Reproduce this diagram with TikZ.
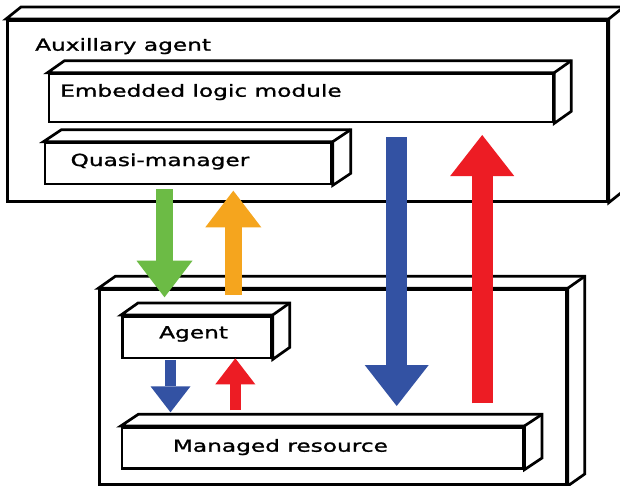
\documentclass[tikz,border=0pt]{standalone}
\usepackage{fontspec}
\setmainfont{DejaVu Sans}[FakeStretch=1.40, FakeBold=1.3]
\usetikzlibrary{arrows.meta,calc}

\definecolor{flowgreen}{RGB}{108,187,69}
\definecolor{floworange}{RGB}{245,165,30}
\definecolor{flowblue}{RGB}{51,82,163}
\definecolor{flowred}{RGB}{237,28,36}

\tikzset{
  boxline/.style={line width=2.7pt, line join=miter},
  front/.style={boxline, draw=black, fill=white, rectangle, inner sep=0pt, anchor=north west},
  lbl/.style={anchor=base west, inner sep=0pt, font=\fontsize{16.6}{19}\selectfont},
  bigflow/.style={line width=21pt, -{Triangle[width=64pt,length=41pt,line width=0pt]}},
  midflow/.style={line width=17.5pt, -{Triangle[width=56pt,length=36.6pt,line width=0pt]}},
  smallflow/.style={line width=11pt, -{Triangle[width=40pt,length=26pt,line width=0pt]}},
}

% front face of a box plus its top and right faces, offset by (dx,dy)
\newcommand{\solidbox}[6]{%
  \node[front, minimum width=#4pt, minimum height=#5pt] (#1) at (#2,#3) {};
  \draw[boxline, fill=white] (#1.north west) -- ++(#6) -- ($(#1.north east)+(#6)$)
    -- ($(#1.south east)+(#6)$) -- (#1.south east) -- (#1.north east) -- cycle;
  \draw[boxline] (#1.north east) -- ++(#6);
}

\begin{document}
\begin{tikzpicture}[x=1pt,y=-1pt]
\useasboundingbox (0,0) rectangle (620,485);

% auxiliary agent and its modules
\solidbox{aux}{6}{19}{600}{181}{15,-12}
\node[lbl] (auxlbl) at (35,50.7) {Auxillary agent};
\solidbox{elm}{47.5}{72.7}{504}{48}{17,-12}
\node[lbl] (elmlbl) at (60,96.7) {Embedded logic module};
\solidbox{qm}{43.5}{141.7}{286.5}{41}{18,-12}
\node[lbl] (qmlbl) at (70.4,166) {Quasi-manager};

% managed system
\solidbox{sys}{98.3}{288.3}{466.7}{195}{17,-12}
\solidbox{ag}{121}{315}{149}{41.7}{17,-12}
\node[lbl] (aglbl) at (159,338.3) {Agent};
\solidbox{mr}{120.7}{426}{401}{41}{17.6,-11.7}
\node[lbl] (mrlbl) at (172.7,451.7) {Managed resource};

% arrow end points
\coordinate (g1) at (164.5,189.3);  \coordinate (g2) at (164.5,297.3);
\coordinate (o1) at (233.3,295);    \coordinate (o2) at (233.3,190.7);
\coordinate (sb1) at (170.5,360);   \coordinate (sb2) at (170.5,412.3);
\coordinate (sr1) at (235.3,410);   \coordinate (sr2) at (235.3,358.3);
\coordinate (bb1) at (396.7,137.3); \coordinate (bb2) at (396.7,406);
\coordinate (br1) at (482.2,403.3); \coordinate (br2) at (482.2,135);

% flows between the agents
\draw[midflow, draw=flowgreen, color=flowgreen] (g1) -- (g2);
\draw[midflow, draw=floworange, color=floworange] (o1) -- (o2);
\draw[smallflow, draw=flowblue, color=flowblue] (sb1) -- (sb2);
\draw[smallflow, draw=flowred, color=flowred] (sr1) -- (sr2);
\draw[bigflow, draw=flowblue, color=flowblue] (bb1) -- (bb2);
\draw[bigflow, draw=flowred, color=flowred] (br1) -- (br2);
\end{tikzpicture}
\end{document}
